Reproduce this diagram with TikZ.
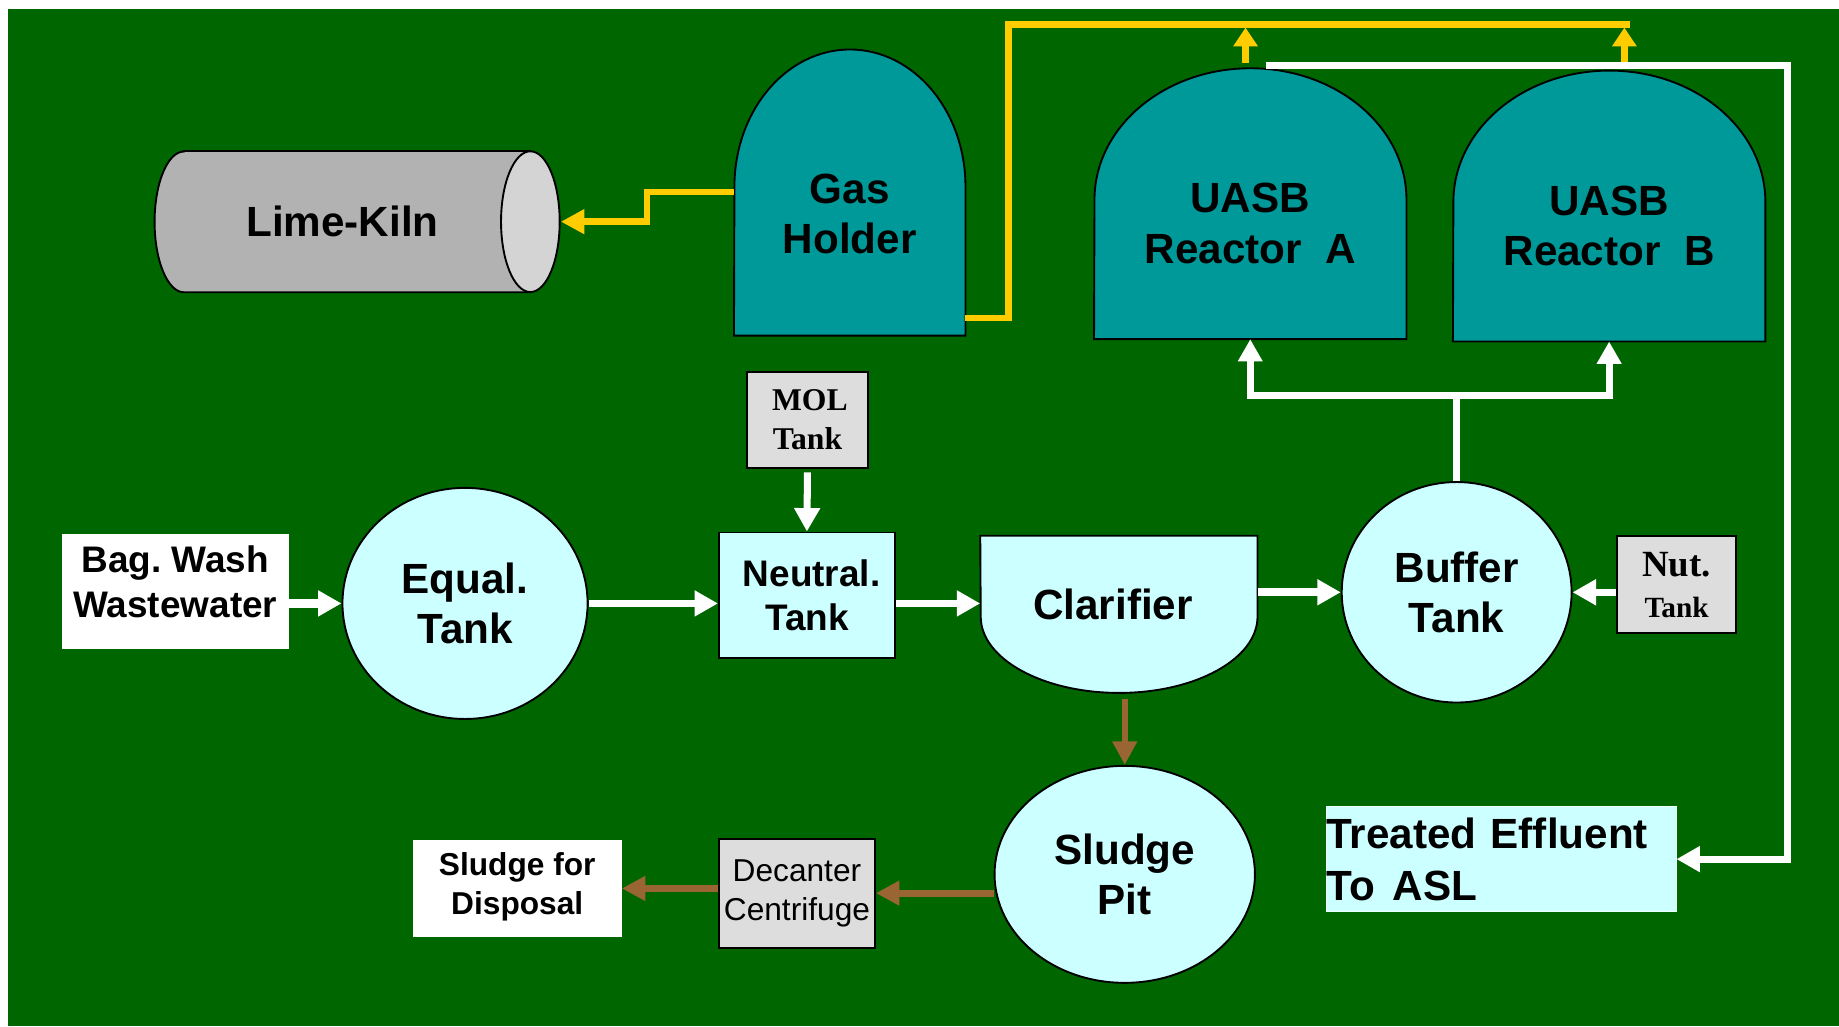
\documentclass[tikz,border=0pt]{standalone}
\usepackage{fontspec}
\setmainfont{Liberation Sans}
\newfontfamily\serifface{Liberation Serif}
\usetikzlibrary{shapes.geometric,arrows.meta,positioning,calc,backgrounds}
\definecolor{bggreen}{HTML}{006600}
\definecolor{tealtank}{HTML}{009999}
\definecolor{palecyan}{HTML}{CCFFFF}
\definecolor{kilngray}{HTML}{B2B2B2}
\definecolor{kilncap}{HTML}{D4D4D4}
\definecolor{boxgray}{HTML}{DDDDDD}
\definecolor{gasyellow}{HTML}{FFCC00}
\definecolor{sludgebrown}{HTML}{996633}
\newcommand{\fsz}[2]{\fontsize{#1}{#2}\selectfont}
\frenchspacing

\begin{document}
\begin{tikzpicture}[x=1pt, y=-1pt,
    tank/.style={ellipse, draw=black, line width=1.6pt, fill=palecyan, inner sep=0pt,
                 align=center, font=\fsz{36}{43}\bfseries},
    unit/.style={rectangle, draw=black, line width=1.6pt, fill=palecyan, inner sep=0pt,
                 align=center, font=\fsz{31.5}{38}\bfseries},
    dosing/.style={rectangle, draw=black, line width=1.6pt, fill=boxgray, inner sep=0pt, align=center},
    terminal/.style={rectangle, fill=white, inner sep=0pt, align=center},
    vessel/.style={rectangle, inner sep=0pt, align=center, font=\fsz{36}{43}\bfseries},
    vesselfill/.style={draw=black, line width=1.6pt, fill=tealtank},
    flow/.style={draw=white, line width=6.5pt, -{Triangle[length=20pt,width=21pt]}},
    gasflow/.style={draw=gasyellow, line width=5.5pt},
    sludgeflow/.style={draw=sludgebrown, line width=6pt, -{Triangle[length=20pt,width=20pt]}}
]
    \useasboundingbox (0,0) rectangle (1568,875);

    % vessels
    \node[vessel, minimum width=320pt, minimum height=120pt] (kiln) at (292,189) {Lime-Kiln};
    \node[vessel, minimum width=197pt, minimum height=207pt] (gas) at (724.5,182.5) {Gas\\Holder};
    \node[vessel, minimum width=266pt, minimum height=197pt] (rA) at (1066,190.5) {UASB\\Reactor\ \ A};
    \node[vessel, minimum width=266pt, minimum height=197pt] (rB) at (1372,192.5) {UASB\\Reactor\ \ B};

    % treatment line
    \node[terminal, minimum width=193pt, minimum height=98pt, text depth=16pt,
          font=\fsz{31.5}{38}\bfseries] (bag) at (149.5,504) {Bag. Wash\\Wastewater};
    \node[tank, minimum width=209pt, minimum height=197pt] (equal) at (396.5,514.5) {Equal.\\Tank};
    \node[dosing, minimum width=103pt, minimum height=82pt, font=\serifface\bfseries\fsz{27}{33}] (mol) at (688.5,358) {\hspace*{4pt}MOL\\Tank};
    \node[unit, minimum width=150pt, minimum height=107pt] (neut) at (688,507.5) {\hspace*{8pt}Neutral.\\Tank};
    \node[vessel, minimum width=236pt, minimum height=116pt] (clar) at (954,515) {Clarifier\hspace*{10pt}};
    \node[tank, minimum width=196pt, minimum height=188pt] (buf) at (1242,505) {Buffer\\Tank};
    \node[dosing, minimum width=101pt, minimum height=83pt, font=\serifface\bfseries\fsz{31.5}{35}] (nut) at (1429.5,498.5) {Nut.\\\fsz{25}{35}Tank};
    \node[tank, minimum width=222pt, minimum height=185pt] (sludge) at (959,745.5) {Sludge\\Pit};
    \node[dosing, minimum width=133pt, minimum height=93pt, font=\fsz{27}{33}] (dec) at (679.5,761.5) {Decanter\\Centrifuge};
    \node[terminal, minimum width=178pt, minimum height=83pt, text depth=8pt,
          font=\fsz{27}{33}\bfseries] (disp) at (441,757.5) {Sludge for\\Disposal};
    \node[terminal, fill=palecyan, draw=white!70!palecyan, line width=0.8pt, minimum width=298pt, minimum height=90pt,
          text width=298pt, align=left, font=\fsz{36}{44}\bfseries] (treated) at (1280,732.5) {Treated Effluent\\To\hspace{15pt}ASL};

    \begin{scope}[on background layer]
        \fill[bggreen] (7,8) rectangle (1568,875);
        \filldraw[vesselfill] (gas.south west) -- (gas.south east) -- ++(0,-127)
            arc[start angle=0, end angle=-180, x radius=98.5, y radius=117] -- cycle;
        \filldraw[vesselfill] (rA.south west) -- (rA.south east) -- ++(0,-119)
            arc[start angle=0, end angle=-180, x radius=133, y radius=112] -- cycle;
        \filldraw[vesselfill] (rB.south west) -- (rB.south east) -- ++(0,-119)
            arc[start angle=0, end angle=-180, x radius=133, y radius=112] -- cycle;
        \filldraw[draw=black, line width=1.6pt, fill=kilngray] ([xshift=25pt]kiln.north west) -- (kiln.north east)
            -- (kiln.south east) -- ([xshift=25pt]kiln.south west)
            arc[start angle=90, end angle=270, x radius=25, y radius=60] -- cycle;
        \filldraw[draw=black, line width=1.6pt, fill=kilncap] (kiln.east) ellipse[x radius=25, y radius=60];
        \filldraw[draw=black, line width=1.6pt, fill=palecyan] (clar.north west) -- (clar.north east) -- ++(0,69)
            arc[start angle=0, end angle=180, x radius=118, y radius=65] -- cycle;
    \end{scope}

    % wastewater flow
    \draw[flow, line width=8pt] (bag.east |- equal) -- (equal.west);
    \draw[flow] (equal.east) -- (neut.west |- equal.east);
    \draw[flow, line width=6pt, shorten <=3pt] (mol.south) -- (neut.north);
    \draw[flow] (neut.east |- equal.east) -- (clar.west |- equal.east);
    \draw[flow] (clar.east |- buf.east) -- (buf.west);
    \draw[flow, line width=6pt] (nut.west |- buf.east) -- (buf.east);
    \coordinate (manifold) at ($(buf.north)+(0,-73)$);
    \draw[white, line width=6pt] (buf.north) -- (manifold);
    \draw[white, line width=6pt, {Triangle[length=19pt,width=20pt]}-{Triangle[length=19pt,width=20pt]}]
        (rA.south) |- (manifold) -| (rB.south);
    \draw[flow, line width=6pt] ([xshift=13pt,yshift=36pt]rA.north) -| ([xshift=95pt]treated.east) -- (treated.east);

    % biogas
    \coordinate (header) at (860,21);
    \draw[gasflow] ([yshift=-88.5pt]gas.east) -| (header) -- ++(530,0);
    \draw[gasflow, -{Triangle[length=16pt,width=20pt]}, shorten >=2.5pt]
        ([xshift=-4pt,yshift=38pt]rA.north) -- ([xshift=-4pt]rA.north |- header);
    \draw[gasflow, -{Triangle[length=16pt,width=20pt]}, shorten >=2.5pt]
        ([xshift=13pt,yshift=41pt]rB.north) -- ([xshift=13pt]rB.north |- header);
    \draw[gasflow, -{Triangle[length=20pt,width=20pt]}] ([yshift=19pt]gas.west) -- ++(-74,0) |- ([xshift=26pt]kiln.east);

    % sludge
    \draw[sludgeflow, line width=5.5pt] ([yshift=-23pt]sludge.north |- clar.south) -- (sludge.north);
    \draw[sludgeflow] (sludge.west |- dec.east) -- (dec.east);
    \draw[sludgeflow] (dec.west |- disp.east) -- (disp.east);
\end{tikzpicture}
\end{document}
